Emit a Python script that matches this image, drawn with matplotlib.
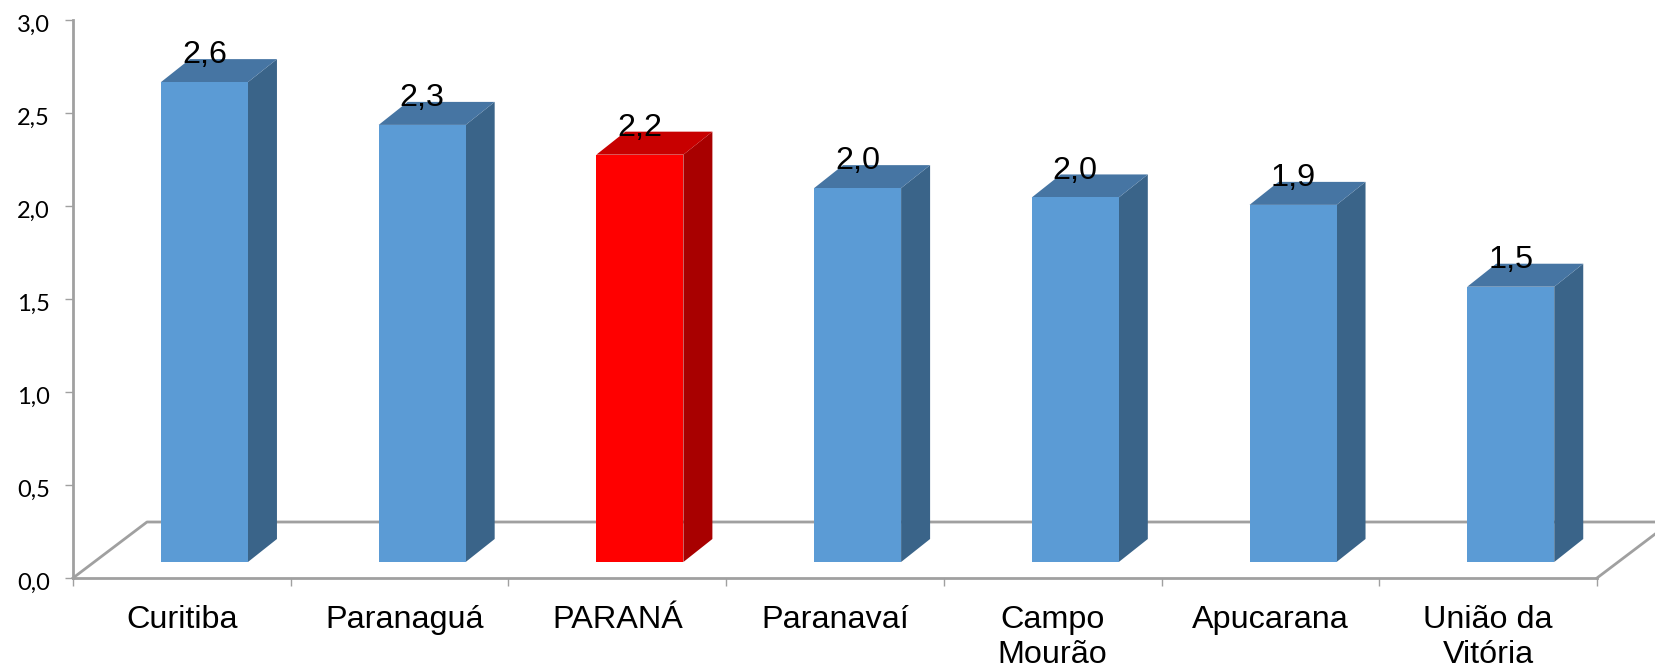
import matplotlib
matplotlib.use('Agg')
import matplotlib.pyplot as plt
from matplotlib.patches import Polygon
from matplotlib.transforms import ScaledTranslation

categories = ['Curitiba', 'Paranaguá', 'PARANÁ', 'Paranavaí', 'Campo\nMourão', 'Apucarana', 'União da\nVitória']
values = [2.58, 2.35, 2.19, 2.01, 1.96, 1.92, 1.48]
value_labels = ['2,6', '2,3', '2,2', '2,0', '2,0', '1,9', '1,5']
y_ticks = [0.0, 0.5, 1.0, 1.5, 2.0, 2.5, 3.0]
y_tick_labels = ['0,0', '0,5', '1,0', '1,5', '2,0', '2,5', '3,0']

# front, top, side colours
blue = ('#5b9bd5', '#4675a3', '#3a6489')
red = ('#ff0000', '#c80000', '#a80000')
highlight = 'PARANÁ'
grey = '#a0a0a0'

W, H = 1655, 667
x0, x1, y0, y1 = 73, 1597, 578, 20
cat_px = (x1 - x0) / len(categories)
val_px = (y0 - y1) / 3.0

# 3d look, in data units
bar_w = 87 / cat_px
bar_dx = 29 / cat_px
bar_dy = 23 / val_px
base = 16 / val_px
floor_dx = 74 / cat_px
floor_dy = 56 / val_px

fig = plt.figure(figsize=(W / 100, H / 100), dpi=100)
ax = fig.add_axes([x0 / W, (H - y0) / H, (x1 - x0) / W, (y0 - y1) / H])
ax.set_xlim(0, len(categories))
ax.set_ylim(0, 3)

# floor
n = len(categories)
ax.plot([0, floor_dx, n + floor_dx], [0, floor_dy, floor_dy], color=grey, lw=2, clip_on=False, zorder=1)
ax.plot([n, n + floor_dx], [0, floor_dy], color=grey, lw=2, clip_on=False, zorder=1)

for i, (cat, v, lab) in enumerate(zip(categories, values, value_labels)):
    front, top, side = red if cat == highlight else blue
    left = i + 0.404
    right = left + bar_w
    ytop = base + v
    ax.add_patch(Polygon([(right, base), (right + bar_dx, base + bar_dy), (right + bar_dx, ytop + bar_dy), (right, ytop)],
                         facecolor=side, edgecolor='none', zorder=2))
    ax.add_patch(Polygon([(left, ytop), (left + bar_dx, ytop + bar_dy), (right + bar_dx, ytop + bar_dy), (right, ytop)],
                         facecolor=top, edgecolor='none', zorder=2))
    ax.bar(left, v, width=bar_w, bottom=base, align='edge', color=front, zorder=3)
    ax.annotate(lab, (left + bar_w / 2, ytop), xytext=(0, 13.5), textcoords='offset points', ha='center', va='baseline',
                fontsize=23.3, family='Liberation Sans', color='black', zorder=5)

for s in ['top', 'right']:
    ax.spines[s].set_visible(False)
for s in ['left', 'bottom']:
    ax.spines[s].set_color(grey)
    ax.spines[s].set_linewidth(2)

ax.set_yticks(y_ticks)
ax.set_yticklabels(y_tick_labels, fontsize=17, family='Lato', color='black')
ax.tick_params(axis='y', length=5.5, width=1.0, color=grey, pad=11)
for t in ax.get_yticklabels():
    t.set_transform(t.get_transform() + ScaledTranslation(0, -2.5 / 72, fig.dpi_scale_trans))

ax.set_xticks(range(n + 1))
ax.set_xticklabels([])
ax.tick_params(axis='x', which='major', length=5.5, width=1.0, color=grey)
ax.set_xticks([i + 0.5 for i in range(n)], minor=True)
ax.set_xticklabels(categories, minor=True, fontsize=23.3, family='Liberation Sans', color='black', linespacing=1.2)
ax.tick_params(axis='x', which='minor', length=0, pad=19.5)
# Paranaguá sits a little right of centre in the original
t = ax.get_xticklabels(minor=True)[1]
t.set_transform(t.get_transform() + ScaledTranslation(3.5 / 72, 0, fig.dpi_scale_trans))

fig.savefig('out.png', dpi=100)
